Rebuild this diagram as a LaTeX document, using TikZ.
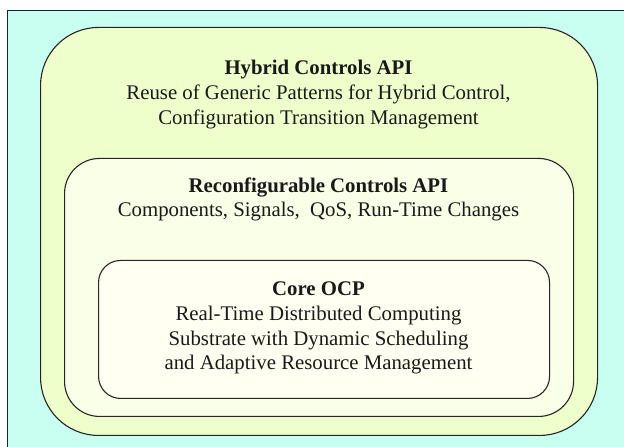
\documentclass[tikz,border=0pt]{standalone}
\usepackage{fontspec}
\setmainfont{Liberation Serif}
\newfontfamily\layerfont{Liberation Serif}
\definecolor{bgcyan}{RGB}{200,255,240}
\definecolor{framecol}{RGB}{20,40,40}
\definecolor{hybridfill}{RGB}{238,255,203}
\definecolor{reconffill}{RGB}{250,255,232}
\definecolor{corefill}{RGB}{255,255,242}
\definecolor{textcol}{RGB}{25,25,25}
\tikzset{
  layer/.style={draw=black!85, line width=1.1pt, anchor=south west, inner sep=0pt},
  label/.style={align=center, text=textcol, font=\layerfont\fontsize{20.8}{24.8}\selectfont, inner sep=0pt},
}
\begin{document}
\begin{tikzpicture}[x=1pt,y=1pt]
  \useasboundingbox (0,0) rectangle (624,447);
  \clip (0,0) rectangle (624,447);
  % page background and frame
  \fill[white] (0,0) rectangle (624,447);
  \node[draw=framecol, fill=bgcyan, line width=1.1pt, anchor=south west, inner sep=0pt,
        minimum width=640pt, minimum height=460pt] (frame) at (7,-24) {};
  % nested layers
  \node[layer, fill=hybridfill, rounded corners=58pt, minimum width=557pt, minimum height=408pt] (hybrid) at (40,11) {};
  \node[layer, fill=reconffill, rounded corners=35pt, minimum width=509pt, minimum height=258pt] (reconf) at (64,30) {};
  \node[layer, fill=corefill, rounded corners=22pt, minimum width=451pt, minimum height=138pt] (core) at (98,48) {};
  % layer descriptions
  \node[label] (hybridtxt) at (318.5,352.5) {\textbf{Hybrid Controls API}\\Reuse of Generic Patterns for Hybrid Control,\\Configuration Transition Management};
  \node[label] (reconftxt) at (318.5,247.5) {\textbf{Reconfigurable Controls API}\\Components, Signals,\ \ QoS, Run-Time Changes};
  \node[label] (coretxt) at (318.5,119) {\textbf{Core OCP}\\Real-Time Distributed Computing\\Substrate with Dynamic Scheduling\\and Adaptive Resource Management};
\end{tikzpicture}
\end{document}
